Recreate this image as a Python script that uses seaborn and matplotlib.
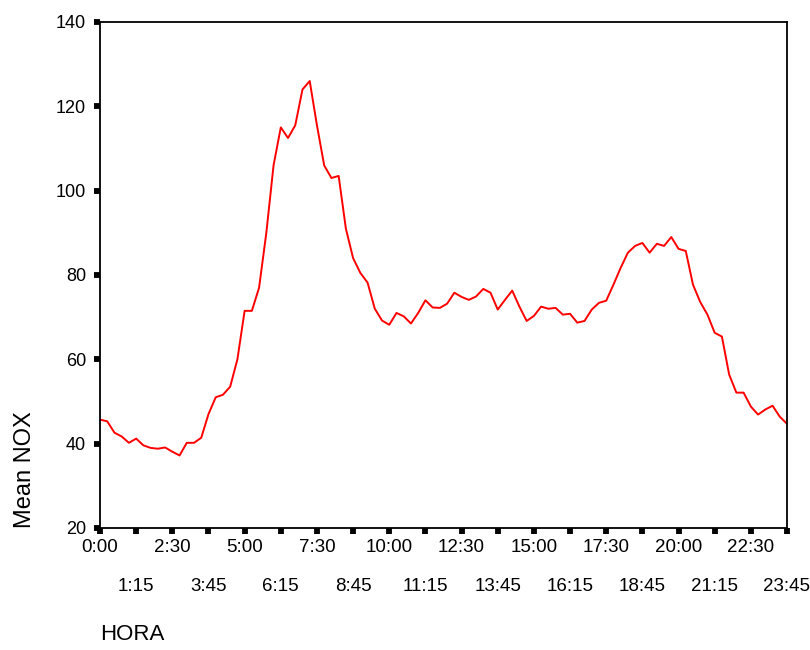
import matplotlib
matplotlib.use("Agg")
import matplotlib.pyplot as plt
import seaborn as sns
import pandas as pd

# 15-minute slots of the day, 0:00 .. 23:45
hora = ["%d:%02d" % (m // 60, m % 60) for m in range(0, 24 * 60, 15)]

mean_nox = [45.7, 45.3, 42.6, 41.7, 40.2, 41.2, 39.6, 39.0, 38.8, 39.1,
            38.1, 37.2, 40.2, 40.2, 41.4, 47.0, 51.0, 51.6, 53.5, 60.0,
            71.5, 71.5, 77.0, 90.0, 106.0, 115.0, 112.5, 115.5, 124.0, 126.0,
            115.5, 106.0, 103.0, 103.5, 91.0, 84.0, 80.5, 78.2, 72.0, 69.2,
            68.2, 71.0, 70.2, 68.5, 71.0, 74.0, 72.3, 72.2, 73.2, 75.8,
            74.8, 74.1, 74.9, 76.7, 75.8, 71.8, 74.1, 76.3, 72.5, 69.1,
            70.3, 72.5, 72.0, 72.2, 70.6, 70.8, 68.7, 69.1, 71.8, 73.4,
            73.9, 77.7, 81.7, 85.3, 86.9, 87.6, 85.3, 87.4, 86.9, 89.0,
            86.2, 85.7, 77.7, 73.6, 70.6, 66.3, 65.4, 56.4, 52.1, 52.1,
            48.8, 46.9, 48.1, 49.0, 46.4, 44.7]

yticks = [20, 40, 60, 80, 100, 120, 140]

df = pd.DataFrame({"pos": range(len(hora)), "HORA": hora, "NOX": mean_nox})

sns.set_style("white")
plt.rcParams["font.family"] = ["Liberation Sans", "DejaVu Sans"]
plt.rcParams["text.color"] = "black"

fig = plt.figure(figsize=(8.1, 6.5), dpi=100)
ax = fig.add_axes([100 / 810, 1 - 528 / 650, 687 / 810, 506 / 650])

sns.lineplot(data=df, x="pos", y="NOX", color="#ff0000", linewidth=1.4, ax=ax)

ax.set_xlim(0, len(hora) - 1)
ax.set_ylim(20, 140)
ax.set_yticks(yticks)
ax.set_yticklabels([str(v) for v in yticks])

# two rows of time labels: every 2:30 on top, the in-between ones below
major = list(range(0, len(hora), 10))
minor = list(range(5, len(hora), 10))
ax.set_xticks(major)
ax.set_xticklabels([hora[i] for i in major])
ax.set_xticks(minor, minor=True)
ax.set_xticklabels([hora[i] for i in minor], minor=True)

for s in ax.spines.values():
    s.set_color("black")
    s.set_linewidth(1.3)
    s.set_visible(True)

ax.tick_params(axis="both", which="both", direction="out", length=4,
               width=4.2, color="black", labelcolor="black",
               bottom=True, left=True)
ax.tick_params(axis="y", pad=6, labelsize=13)
ax.tick_params(axis="x", which="both", labelsize=13.5)
ax.tick_params(axis="x", which="major", pad=4)
ax.tick_params(axis="x", which="minor", pad=32)

ax.set_xlabel("HORA", fontsize=16, loc="left", color="black")
ax.xaxis.set_label_coords(0.0, -0.19)
ax.set_ylabel("Mean NOX", fontsize=17, loc="bottom", color="black")
ax.yaxis.set_label_coords(-0.093, 0.0)

fig.savefig("out.png", dpi=100)
